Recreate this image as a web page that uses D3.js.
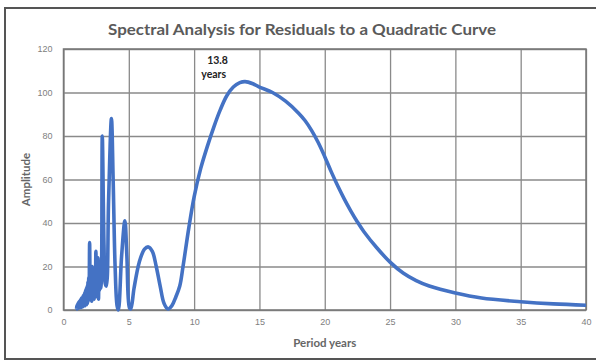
<!DOCTYPE html>
<html>
<head>
<meta charset="utf-8">
<script src="https://cdn.jsdelivr.net/npm/d3@7"></script>
<style>
  body { margin: 0; background: #fff; }
  svg { display: block; font-family: Lato, "Open Sans", sans-serif; }
</style>
</head>
<body>
<script>
// Tick values
const xTicks = [0, 5, 10, 15, 20, 25, 30, 35, 40];
const yTicks = [0, 20, 40, 60, 80, 100, 120];

// Period (years) and amplitude
const period = [
  1.00, 1.02, 1.04, 1.06, 1.08, 1.10, 1.12, 1.15, 1.18, 1.21, 1.24, 1.27, 1.30, 1.33, 1.36, 1.39,
  1.42, 1.45, 1.48, 1.51, 1.54, 1.57, 1.60, 1.63, 1.66, 1.69, 1.72, 1.75, 1.78, 1.81, 1.84, 1.87,
  1.90, 1.93, 1.96, 2.00, 2.04, 2.07, 2.10, 2.13, 2.16, 2.19, 2.22, 2.25, 2.28, 2.32, 2.36, 2.40,
  2.44, 2.48, 2.52, 2.56, 2.60, 2.64, 2.68, 2.72, 2.76, 2.80, 2.85, 2.90, 2.97, 3.10, 3.20, 3.28,
  3.45, 3.67, 3.80, 3.95, 4.10, 4.20, 4.45, 4.70, 4.85, 5.05, 5.15,
  5.40, 5.80, 6.20, 6.50, 6.80, 7.10, 7.40, 7.70, 8.00, 8.30, 8.60, 8.90, 9.15, 9.60,
  10.0, 10.5, 11.0, 11.5, 12.0, 12.5, 13.0, 13.5, 13.9, 14.5, 15.0, 16.0, 17.0, 18.0, 18.5, 19.0,
  19.5, 20.0, 20.5, 21.0, 21.5, 22.0, 22.5, 23.0, 24.0, 25.0, 26.0, 27.0, 28.0, 30.0, 32.0, 35.0,
  37.5, 40.0
];
const amplitude = [
  0.5, 2, 0.5, 2.5, 1, 3, 0.8, 3.5, 1.2, 4, 1, 4.5, 1.5, 5, 1.2, 5.5,
  2, 6, 1.5, 6.5, 2, 7, 2.5, 8, 2, 9, 3, 10, 2.5, 11, 3, 13,
  4, 15, 5, 31, 6, 19, 5, 18, 4, 20, 6, 17, 7, 19, 5, 16,
  6, 27, 8, 22, 6, 24, 5, 22, 9, 20, 10, 14, 80, 30, 12, 11,
  50, 88, 60, 20, 2, 0, 25, 41, 25, 1, 0.5,
  10, 22, 28, 29, 27, 20, 11, 3, 0.5, 2, 6, 11, 20, 38,
  52, 65, 75, 84, 92, 98.5, 102.5, 104.5, 105, 104, 102.5, 100, 96, 90.5, 87, 82.5,
  77, 70.5, 63.5, 57, 51, 45.5, 40.5, 36, 28.5, 22, 17, 13.5, 11, 7.8, 5.5, 3.8,
  2.8, 2.2
];

const W = 596, H = 362;
const margin = { top: 49, right: 10, bottom: 52, left: 63.5 };
const iw = W - margin.left - margin.right;
const ih = H - margin.top - margin.bottom;

const svg = d3.select('body').append('svg')
  .attr('width', W)
  .attr('height', H);

// marco exterior
svg.append('rect')
  .attr('x', 5).attr('y', 8)
  .attr('width', 600).attr('height', 351)
  .attr('fill', 'none')
  .attr('stroke', '#555')
  .attr('stroke-width', 2);

const x = d3.scaleLinear().domain([0, 40]).range([0, iw]);
const y = d3.scaleLinear().domain([0, 120]).range([ih, 0]);

const g = svg.append('g').attr('transform', `translate(${margin.left},${margin.top})`);

// rejilla + ejes
g.append('g')
  .attr('transform', `translate(0,${ih})`)
  .call(d3.axisBottom(x).tickValues(xTicks).tickSize(-ih).tickPadding(9))
  .call(a => a.select('.domain').remove())
  .call(a => a.selectAll('line').attr('stroke', '#8a8a8a').attr('stroke-width', 1.3))
  .call(a => a.selectAll('text').attr('fill', '#808080').attr('font-size', 9));

g.append('g')
  .call(d3.axisLeft(y).tickValues(yTicks).tickSize(-iw).tickPadding(11))
  .call(a => a.select('.domain').remove())
  .call(a => a.selectAll('line').attr('stroke', '#8a8a8a').attr('stroke-width', 1.3))
  .call(a => a.selectAll('text').attr('fill', '#808080').attr('font-size', 9));

g.append('rect')
  .attr('width', iw).attr('height', ih)
  .attr('fill', 'none')
  .attr('stroke', '#777')
  .attr('stroke-width', 1.5);

const data = period.map((p, i) => ({ p, a: amplitude[i] }));

const line = d3.line()
  .x(d => x(d.p))
  .y(d => Math.min(y(d.a), ih))
  .curve(d3.curveCatmullRom.alpha(0.5));

g.append('path')
  .datum(data)
  .attr('d', line)
  .attr('fill', 'none')
  .attr('stroke', '#4472C4')
  .attr('stroke-width', 3.6)
  .attr('stroke-linejoin', 'round');

// anotación
g.append('text')
  .attr('x', x(11.0)).attr('y', y(113))
  .attr('font-size', 10.5).attr('font-weight', 700).attr('fill', '#222')
  .text('13.8');
g.append('text')
  .attr('x', x(10.55)).attr('y', y(106.5))
  .attr('font-size', 10.5).attr('font-weight', 700).attr('fill', '#222')
  .text('years');

// títulos
svg.append('text')
  .attr('x', 302).attr('y', 35)
  .attr('text-anchor', 'middle')
  .attr('font-size', 16).attr('font-weight', 700).attr('fill', '#5a5a5a')
  .attr('textLength', 388).attr('lengthAdjust', 'spacingAndGlyphs')
  .text('Spectral Analysis for Residuals to a Quadratic Curve');

svg.append('text')
  .attr('x', margin.left + iw / 2).attr('y', 347)
  .attr('text-anchor', 'middle')
  .attr('font-size', 11.5).attr('font-weight', 700).attr('fill', '#666')
  .text('Period years');

svg.append('text')
  .attr('transform', `translate(30,${margin.top + ih / 2}) rotate(-90)`)
  .attr('text-anchor', 'middle')
  .attr('font-size', 11.5).attr('font-weight', 700).attr('fill', '#666')
  .text('Amplitude');
</script>
</body>
</html>
